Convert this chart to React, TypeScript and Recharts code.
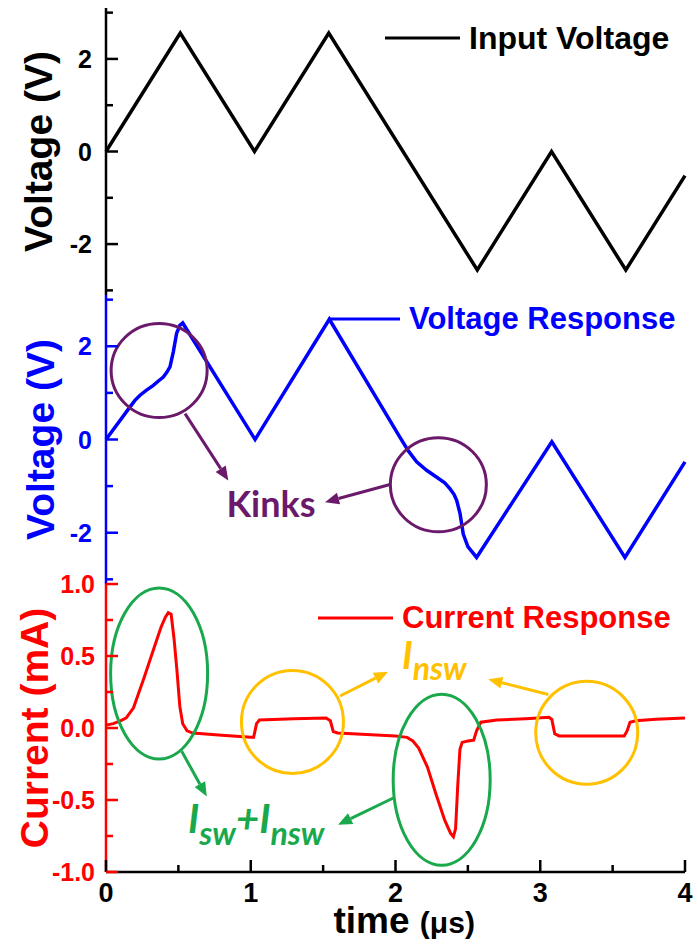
import React from 'react';
import { LineChart, Line, XAxis, YAxis, Legend, ReferenceDot, ReferenceLine } from 'recharts';

// ---------------- data ----------------
const timeTicks = [0, 0.5, 1, 1.5, 2, 2.5, 3, 3.5, 4];
const voltTicks = [-3, -2, -1, 0, 1, 2, 3];
const currentTicks = [-1, -0.75, -0.5, -0.25, 0, 0.25, 0.5, 0.75, 1];

const inputTime = [0, 0.513, 1.026, 1.539, 2.565, 3.078, 3.591, 4.0];
const inputVolt = [0, 2.56, 0, 2.56, -2.56, 0, -2.56, -0.52];

const respTime = [0, 0.166, 0.2, 0.235, 0.28, 0.327, 0.36, 0.396, 0.42, 0.442, 0.465, 0.488, 0.51, 0.53, 1.03, 1.543, 2.03, 2.09, 2.146, 2.215, 2.285, 2.34, 2.377, 2.405, 2.423, 2.446, 2.468, 2.5, 2.56, 3.08, 3.585, 4.0];
const respVolt = [0, 0.7, 0.84, 0.95, 1.06, 1.16, 1.25, 1.34, 1.44, 1.56, 1.88, 2.28, 2.45, 2.5, 0, 2.58, 0.05, -0.25, -0.48, -0.66, -0.81, -0.93, -1.06, -1.18, -1.31, -1.59, -2.03, -2.3, -2.53, -0.05, -2.53, -0.48];

const curTime = [0, 0.05, 0.1, 0.14, 0.19, 0.26, 0.33, 0.38, 0.41, 0.43, 0.45, 0.47, 0.49, 0.51, 0.53, 0.56, 0.6, 0.8, 1.0, 1.02, 1.04, 1.06, 1.3, 1.52, 1.55, 1.57, 1.6, 1.8, 2.0, 2.08, 2.12, 2.16, 2.22, 2.28, 2.34, 2.38, 2.4, 2.415, 2.43, 2.445, 2.46, 2.5, 2.54, 2.56, 2.59, 2.7, 2.9, 3.06, 3.08, 3.1, 3.13, 3.4, 3.58, 3.6, 3.62, 3.66, 3.8, 4.0];
const curVal = [0.02, 0.03, 0.05, 0.07, 0.14, 0.34, 0.55, 0.7, 0.77, 0.8, 0.79, 0.62, 0.4, 0.15, 0.03, -0.02, -0.035, -0.05, -0.065, -0.065, 0.03, 0.055, 0.065, 0.07, 0.05, -0.025, -0.035, -0.045, -0.055, -0.065, -0.09, -0.14, -0.27, -0.46, -0.64, -0.73, -0.755, -0.7, -0.4, -0.15, -0.1, -0.09, -0.085, -0.02, 0.04, 0.055, 0.065, 0.075, 0.06, -0.04, -0.055, -0.055, -0.055, -0.02, 0.04, 0.05, 0.06, 0.07];

const seriesNames = ['Input Voltage', 'Voltage Response', 'Current Response'];
const axisTitles = ['Voltage (V)', 'Voltage (V)', 'Current (mA)'];

// annotation anchors (data coordinates)
const kinkCircles = [{ t: 0.367, v: 1.48 }, { t: 2.296, v: -0.97 }];
const kinkArrows = [
  [{ x: 0.546, y: 0.556 }, { x: 0.845, y: -0.878 }],
  [{ x: 1.962, y: -0.965 }, { x: 1.513, y: -1.345 }],
];
const kinkLabel = { t: 1.14, v: -1.38, text: 'Kinks' };

const swEllipses = [{ t: 0.367, v: 0.378 }, { t: 2.319, v: -0.359 }];
const swArrows = [
  [{ x: 0.523, y: -0.162 }, { x: 0.696, y: -0.475 }],
  [{ x: 1.985, y: -0.486 }, { x: 1.603, y: -0.672 }],
];
const swLabel = { t: 0.567, v: -0.728 };

const nswCircles = [{ t: 1.288, v: 0.042 }, { t: 3.321, v: -0.033 }];
const nswArrows = [
  [{ x: 1.617, y: 0.222 }, { x: 1.948, y: 0.39 }],
  [{ x: 3.056, y: 0.233 }, { x: 2.641, y: 0.338 }],
];
const nswLabel = { t: 2.045, v: 0.408 };

// ---------------- styling ----------------
const FONT = '"Liberation Sans", Arial, Helvetica, sans-serif';
const ANN_FONT = 'Lato, "Open Sans", sans-serif';
const BLACK = '#000000';
const BLUE = '#0000ff';
const RED = '#ff0000';
const PURPLE = '#6b1a6b';
const GREEN = '#19a84b';
const ORANGE = '#ffc000';
const AXW = 2.5;

const rows = (t: number[], v: number[]) => t.map((x, i) => ({ t: x, v: v[i] }));
const inputRows = rows(inputTime, inputVolt);
const respRows = rows(respTime, respVolt);
const curRows = rows(curTime, curVal);

const isInt = (v: number) => Math.abs(v - Math.round(v)) < 1e-6;

const makeXTick = (showLabels: boolean) => (props: any) => {
  const { x, y, payload } = props;
  const val = payload.value;
  const major = isInt(val);
  return (
    <g>
      <line x1={x} x2={x} y1={y} y2={y - (major ? 12 : 7)} stroke={BLACK} strokeWidth={AXW} />
      {showLabels && major && (
        <text x={x} y={y + 30} textAnchor="middle" fontFamily={FONT} fontWeight="bold" fontSize={27} fill={BLACK}>
          {val}
        </text>
      )}
    </g>
  );
};

const makeYTick = (color: string, isMajor: (v: number) => boolean, fmt: (v: number) => string, gap: number) => (props: any) => {
  const { x, y, payload } = props;
  const val = payload.value;
  const major = isMajor(val);
  return (
    <g>
      <line x1={x} x2={x + (major ? 12 : 7)} y1={y} y2={y} stroke={color} strokeWidth={AXW} />
      {major && (
        <text x={x - gap} y={y} dy="0.36em" textAnchor="end" fontFamily={FONT} fontWeight="bold" fontSize={25} fill={color}>
          {fmt(val)}
        </text>
      )}
    </g>
  );
};

const YTitle = (props: any) => {
  const vb = props.viewBox || { x: 0, y: 0, width: 106, height: 288 };
  const cx = props.cx;
  const cy = vb.y + vb.height / 2;
  return (
    <text x={cx} y={cy} dy="0.35em" transform={`rotate(-90 ${cx} ${cy})`} textAnchor="middle" fontFamily={FONT} fontWeight="bold" fontSize={39} fill={props.color}>
      {props.text}
    </text>
  );
};

const XTitle = (props: any) => {
  const vb = props.viewBox || { x: 106, y: 872, width: 579, height: 77 };
  const x0 = vb.x + vb.width / 2 - 62;
  const y0 = vb.y + 61;
  return (
    <text x={x0} y={y0} fontFamily={FONT} fontWeight="bold" fill={BLACK}>
      <tspan fontSize={37}>time </tspan>
      <tspan fontSize={30}>(μs)</tspan>
    </text>
  );
};

const legendContent = (color: string, lineLen: number, size: number, fallback: string) => (p: any) => {
  const item = p && p.payload && p.payload[0];
  const label = (item && item.value) || fallback;
  return (
    <div style={{ display: 'flex', alignItems: 'center', whiteSpace: 'nowrap' }}>
      <svg width={lineLen} height={6} style={{ display: 'block' }}>
        <line x1={0} y1={3} x2={lineLen} y2={3} stroke={color} strokeWidth={3} />
      </svg>
      <span style={{ marginLeft: 9, fontFamily: FONT, fontWeight: 'bold', fontSize: size, lineHeight: '36px', color }}>{label}</span>
    </div>
  );
};

const arrowShape = (color: string, width: number) => (p: any) => {
  const { x1, y1, x2, y2 } = p;
  const ang = Math.atan2(y2 - y1, x2 - x1);
  const L = 14;
  const Wd = 6;
  const bx = x2 - L * Math.cos(ang);
  const by = y2 - L * Math.sin(ang);
  const pts = [
    [x2, y2],
    [bx - Wd * Math.sin(ang), by + Wd * Math.cos(ang)],
    [bx + Wd * Math.sin(ang), by - Wd * Math.cos(ang)],
  ];
  return (
    <g>
      <line x1={x1} y1={y1} x2={bx} y2={by} stroke={color} strokeWidth={width} />
      <polygon points={pts.map((q) => q.join(',')).join(' ')} fill={color} />
    </g>
  );
};

const ellipseShape = (color: string, rx: number, ry: number) => (p: any) => (
  <ellipse cx={p.cx} cy={p.cy} rx={rx} ry={ry} fill="none" stroke={color} strokeWidth={3} />
);

const commonX = {
  dataKey: 't',
  type: 'number' as const,
  domain: [0, 4],
  ticks: timeTicks,
  interval: 0 as const,
  tickSize: 0,
  tickMargin: 0,
  tickLine: false,
  axisLine: { stroke: BLACK, strokeWidth: AXW },
};

const rightAxis = (
  <YAxis yAxisId="right" orientation="right" width={0} type="number" domain={[0, 1]} tick={false} tickLine={false} axisLine={{ stroke: BLACK, strokeWidth: AXW }} />
);

export default function App() {
  return (
    <div style={{ position: 'absolute', left: 0, top: 0, width: 698, height: 949, background: '#fff' }}>
      {/* Top panel: input voltage */}
      <div style={{ position: 'absolute', left: 0, top: 0 }}>
        <LineChart width={698} height={300} margin={{ top: 8, right: 13, bottom: 5, left: 0 }}>
          <XAxis {...commonX} height={0} tick={makeXTick(false)} />
          <XAxis xAxisId="top" orientation="top" type="number" domain={[0, 4]} height={0} tick={false} tickLine={false} axisLine={{ stroke: BLACK, strokeWidth: AXW }} />
          <YAxis
            type="number"
            domain={[-3.1, 3.1]}
            ticks={voltTicks}
            interval={0}
            width={106}
            tickSize={0}
            tickMargin={0}
            tickLine={false}
            axisLine={{ stroke: BLACK, strokeWidth: AXW }}
            tick={makeYTick(BLACK, (v) => v % 2 === 0, (v) => String(v), 14)}
            label={<YTitle text={axisTitles[0]} color={BLACK} cx={38} />}
          />
          {rightAxis}
          <Legend
            layout="vertical"
            align="center"
            verticalAlign="middle"
            wrapperStyle={{ top: 20, left: 385, width: 'auto' }}
            content={legendContent(BLACK, 75, 32, seriesNames[0])}
          />
          <Line data={inputRows} dataKey="v" name={seriesNames[0]} type="linear" stroke={BLACK} strokeWidth={3.5} dot={false} isAnimationActive={false} />
        </LineChart>
      </div>

      {/* Middle panel: voltage response */}
      <div style={{ position: 'absolute', left: 0, top: 290 }}>
        <LineChart width={698} height={300} margin={{ top: 5, right: 13, bottom: 6, left: 0 }}>
          <XAxis {...commonX} height={0} tick={makeXTick(false)} />
          <YAxis
            type="number"
            domain={[-3.1, 3.1]}
            ticks={voltTicks}
            interval={0}
            width={106}
            tickSize={0}
            tickMargin={0}
            tickLine={false}
            axisLine={{ stroke: BLUE, strokeWidth: AXW }}
            tick={makeYTick(BLUE, (v) => v % 2 === 0, (v) => String(v), 14)}
            label={<YTitle text={axisTitles[1]} color={BLUE} cx={40} />}
          />
          {rightAxis}
          <Legend
            layout="vertical"
            align="center"
            verticalAlign="middle"
            wrapperStyle={{ top: 11, left: 328, width: 'auto' }}
            content={legendContent(BLUE, 72, 31, seriesNames[1])}
          />
          <Line data={respRows} dataKey="v" name={seriesNames[1]} type="linear" stroke={BLUE} strokeWidth={3.5} dot={false} isAnimationActive={false} />
          {kinkCircles.map((c, i) => (
            <ReferenceDot key={`kc${i}`} x={c.t} y={c.v} r={48} ifOverflow="visible" shape={ellipseShape(PURPLE, 48, 47)} />
          ))}
          {kinkArrows.map((seg, i) => (
            <ReferenceLine key={`ka${i}`} segment={seg} ifOverflow="visible" shape={arrowShape(PURPLE, 3)} />
          ))}
          <ReferenceDot
            x={kinkLabel.t}
            y={kinkLabel.v}
            r={1}
            ifOverflow="visible"
            shape={(p: any) => (
              <text x={p.cx} y={p.cy} dy="0.36em" textAnchor="middle" fontFamily={ANN_FONT} fontWeight="bold" fontSize={36} fill={PURPLE}>
                {kinkLabel.text}
              </text>
            )}
          />
        </LineChart>
      </div>

      {/* Bottom panel: current response */}
      <div style={{ position: 'absolute', left: 0, top: 560 }}>
        <LineChart width={698} height={389} margin={{ top: 24, right: 13, bottom: 0, left: 0 }}>
          <XAxis {...commonX} height={77} tick={makeXTick(true)} label={<XTitle />} />
          <YAxis
            type="number"
            domain={[-1, 1]}
            ticks={currentTicks}
            interval={0}
            width={106}
            tickSize={0}
            tickMargin={0}
            tickLine={false}
            axisLine={{ stroke: RED, strokeWidth: AXW }}
            tick={makeYTick(RED, (v) => isInt(v * 2), (v) => v.toFixed(1), 11)}
            label={<YTitle text={axisTitles[2]} color={RED} cx={34} />}
          />
          {rightAxis}
          <Legend
            layout="vertical"
            align="center"
            verticalAlign="middle"
            wrapperStyle={{ top: 40, left: 318, width: 'auto' }}
            content={legendContent(RED, 75, 31, seriesNames[2])}
          />
          <Line data={curRows} dataKey="v" name={seriesNames[2]} type="linear" stroke={RED} strokeWidth={3} dot={false} isAnimationActive={false} />
          {swEllipses.map((c, i) => (
            <ReferenceDot key={`se${i}`} x={c.t} y={c.v} r={48} ifOverflow="visible" shape={ellipseShape(GREEN, 48.5, 85.5)} />
          ))}
          {swArrows.map((seg, i) => (
            <ReferenceLine key={`sa${i}`} segment={seg} ifOverflow="visible" shape={arrowShape(GREEN, 3)} />
          ))}
          {nswCircles.map((c, i) => (
            <ReferenceDot key={`nc${i}`} x={c.t} y={c.v} r={51} ifOverflow="visible" shape={ellipseShape(ORANGE, 51, 51.5)} />
          ))}
          {nswArrows.map((seg, i) => (
            <ReferenceLine key={`na${i}`} segment={seg} ifOverflow="visible" shape={arrowShape(ORANGE, 3)} />
          ))}
          <ReferenceDot
            x={swLabel.t}
            y={swLabel.v}
            r={1}
            ifOverflow="visible"
            shape={(p: any) => (
              <text x={p.cx} y={p.cy} fontFamily={ANN_FONT} fontWeight="bold" fontStyle="italic" fill={GREEN}>
                <tspan fontSize={40}>I</tspan>
                <tspan fontSize={32} dy={12}>sw</tspan>
                <tspan fontSize={40} dy={-12}>+I</tspan>
                <tspan fontSize={32} dy={12}>nsw</tspan>
              </text>
            )}
          />
          <ReferenceDot
            x={nswLabel.t}
            y={nswLabel.v}
            r={1}
            ifOverflow="visible"
            shape={(p: any) => (
              <text x={p.cx} y={p.cy} fontFamily={ANN_FONT} fontWeight="bold" fontStyle="italic" fill={ORANGE}>
                <tspan fontSize={38}>I</tspan>
                <tspan fontSize={32} dy={11}>nsw</tspan>
              </text>
            )}
          />
        </LineChart>
      </div>
    </div>
  );
}
